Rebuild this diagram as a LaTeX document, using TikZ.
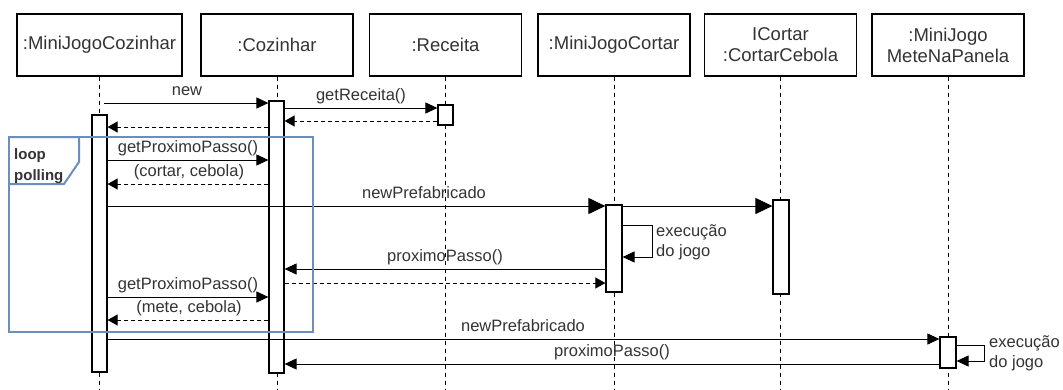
\documentclass[tikz,border=0pt]{standalone}
\usepackage{fontspec}
\setmainfont{Liberation Sans}
\usetikzlibrary{arrows.meta}
\definecolor{txt}{HTML}{333333}
\definecolor{loopc}{HTML}{6C8EBF}
\begin{document}
\begin{tikzpicture}[x=1pt,y=-1pt,
 hdr/.style={draw, line width=1.2pt, minimum width=152pt, minimum height=62pt, inner sep=0pt, align=center, font=\fontsize{18.5}{21}\selectfont, text=txt},
 act/.style={draw, fill=white, line width=1.2pt, minimum width=15pt, inner sep=0pt},
 life/.style={dash pattern=on 4pt off 4pt, line width=1pt},
 msg/.style={line width=1pt, -{Triangle[length=12pt,width=11pt]}},
 bigmsg/.style={line width=1pt, -{Triangle[length=17pt,width=16pt]}},
 ret/.style={line width=1pt, dash pattern=on 4pt off 3pt, -{Triangle[length=10pt,width=11pt]}},
 lbl/.style={anchor=base, font=\fontsize{16.5}{19}\selectfont, text=txt, inner sep=0pt},
 note/.style={anchor=west, align=left, font=\fontsize{16.5}{20}\selectfont, text=txt, inner sep=0pt},
 loopline/.style={loopc, line width=2pt},
 looplbl/.style={anchor=base west, inner sep=0pt, font=\bfseries\fontsize{15}{18}\selectfont, text=txt},
]
\useasboundingbox (0,0) rectangle (1063,389);
% headers
\node[hdr, minimum width=165pt] (h1) at (99.5,45) {:MiniJogoCozinhar};
\node[hdr] (h2) at (277,45) {:Cozinhar};
\node[hdr] (h3) at (445.5,45) {:Receita};
\node[hdr] (h4) at (614,45) {:MiniJogoCortar};
\node[hdr] (h5) at (780.5,45) {ICortar\\:CortarCebola};
\node[hdr] (h6) at (948,45) {:MiniJogo\\MeteNaPanela};
% lifelines
\foreach \h in {h1,h2,h3,h4,h5,h6} {\draw[life] (\h.south) -- (\h.south |- 0,389);}
% activations
\node[act, minimum height=257pt] (a1) at (99.5,243.5) {};
\node[act, minimum height=272pt] (a2) at (276.5,237) {};
\node[act, minimum height=20pt] (a3) at (445.5,115) {};
\node[act, minimum width=16pt, minimum height=87pt] (a4) at (614,248.5) {};
\node[act, minimum width=16pt, minimum height=94pt] (a5) at (781,247) {};
\node[act, minimum width=16pt, minimum height=31pt] (a6) at (948,352.5) {};
% messages
\coordinate (newstart) at (104,103);
\draw[msg] (newstart) -- (a2.west |- 0,103);
\node[lbl] (lnew) at (187,95.5) {new};
\draw[msg] (a2.east |- 0,108) -- (a3.west |- 0,108);
\node[lbl] (lrec) at (361,100.5) {getReceita()};
\draw[ret] (a3.west |- 0,121) -- (a2.east |- 0,121);
\draw[ret] (a2.west |- 0,127) -- (a1.east |- 0,127);
\draw[msg] (a1.east |- 0,160) -- (a2.west |- 0,160);
\node[lbl] (lgp1) at (188,152.5) {getProximoPasso()};
\draw[ret] (a2.west |- 0,184) -- (a1.east |- 0,184);
\node[lbl] (lcc) at (189,176.5) {(cortar, cebola)};
\draw[bigmsg] (a1.east |- 0,206) -- (a4.west |- 0,206);
\node[lbl] (lnp1) at (424,198.5) {newPrefabricado};
\draw[bigmsg] (a4.east |- 0,206) -- (a5.west |- 0,206);
\coordinate (s1a) at (652,225);
\coordinate (s1b) at (652,257);
\draw[msg] (a4.east |- 0,225) -- (s1a) -- (s1b) -- (a4.east |- 0,257);
\node[note] (ex1) at (656,242) {execução\\do jogo};
\draw[msg] (a4.west |- 0,269) -- (a2.east |- 0,269);
\node[lbl] (lpp1) at (445,261.5) {proximoPasso()};
\draw[ret] (a2.east |- 0,283) -- (a4.west |- 0,283);
\draw[msg] (a1.east |- 0,297) -- (a2.west |- 0,297);
\node[lbl] (lgp2) at (188,289.5) {getProximoPasso()};
\draw[ret] (a2.west |- 0,320) -- (a1.east |- 0,320);
\node[lbl] (lmc) at (189,312.5) {(mete, cebola)};
\draw[msg] (a1.east |- 0,339) -- (a6.west |- 0,339);
\node[lbl] (lnp2) at (523,331.5) {newPrefabricado};
\draw[msg] (a6.west |- 0,364) -- (a2.east |- 0,364);
\node[lbl] (lpp2) at (612,356.5) {proximoPasso()};
\coordinate (s2a) at (984,345);
\coordinate (s2b) at (984,361);
\draw[msg] (a6.east |- 0,345) -- (s2a) -- (s2b) -- (a6.east |- 0,361);
\node[note] (ex2) at (989,353) {execução\\do jogo};
% loop frame
\draw[loopline] (9,137) rectangle (313,332);
\draw[loopline] (9,137) -- (79,137) -- (79,162) -- (64,184) -- (9,184);
\node[looplbl] (lloop) at (14,159) {loop};
\node[looplbl] (lpoll) at (14,180) {polling};
\end{tikzpicture}
\end{document}
